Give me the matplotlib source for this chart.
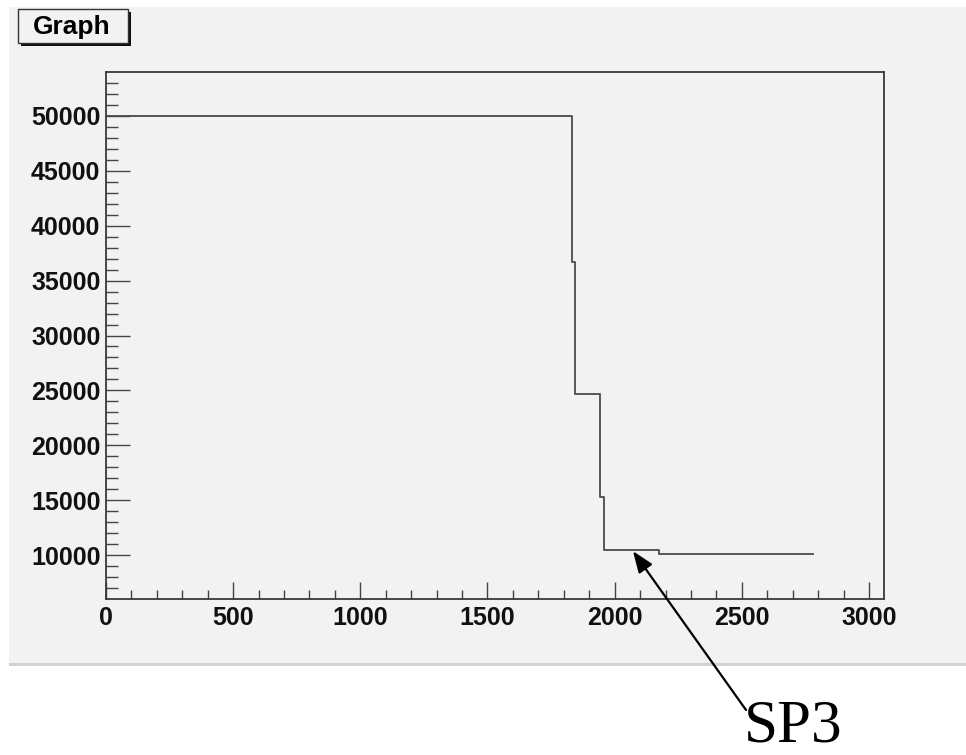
import matplotlib
matplotlib.use("Agg")
import matplotlib.pyplot as plt
from matplotlib.patches import Rectangle

# ---- data ----
step_x = [0, 1833, 1844, 1942, 1958, 2060, 2175, 2780]
step_y = [50000, 36660, 24680, 15245, 10500, 10420, 10110, 10110]
x_ticks = [0, 500, 1000, 1500, 2000, 2500, 3000]
y_ticks = [10000, 15000, 20000, 25000, 30000, 35000, 40000, 45000, 50000]
title_text = "Graph"
note_text = "SP3"
note_point = (2072, 10360)

W, H = 966, 755
fig = plt.figure(figsize=(W / 100, H / 100), dpi=100)
fig.patch.set_facecolor("white")

def fx(px):
    return px / W

def fy(py):
    return 1 - py / H

panel_col = "#f2f2f2"
# gray canvas panel
fig.patches.append(Rectangle((fx(9), fy(665)), fx(966) - fx(9), fy(7) - fy(665),
                             transform=fig.transFigure, facecolor=panel_col,
                             edgecolor="none", zorder=-2))
fig.patches.append(Rectangle((fx(9), fy(666)), fx(966) - fx(9), fy(663) - fy(666),
                             transform=fig.transFigure, facecolor="#d2d2d2",
                             edgecolor="none", zorder=-2))

ax = fig.add_axes([fx(106), fy(599), fx(884) - fx(106), fy(72) - fy(599)])
ax.set_zorder(1)
ax.set_facecolor(panel_col)
ax.plot(step_x, step_y, drawstyle="steps-post", color="#4a4a4a", lw=1.3)
ax.set_xlim(0, 3059)
ax.set_ylim(6000, 54000)

ax.set_xticks(x_ticks)
ax.set_xticks(range(0, 3060, 100), minor=True)
ax.set_yticks(y_ticks)
ax.set_yticks(range(7000, 54000, 1000), minor=True)
ax.set_xticklabels([str(v) for v in x_ticks])
ax.set_yticklabels([str(v) for v in y_ticks])

for lab in ax.get_xticklabels() + ax.get_yticklabels():
    lab.set_fontfamily("Liberation Sans")
    lab.set_fontweight("bold")
    lab.set_fontsize(18)
    lab.set_color("#111111")

ax.tick_params(axis="x", which="major", direction="in", length=12.2, width=1.0,
               color="#444444", pad=5, top=False)
ax.tick_params(axis="x", which="minor", direction="in", length=6.5, width=1.0,
               color="#444444", top=False)
ax.tick_params(axis="y", which="major", direction="in", length=17.3, width=1.0,
               color="#444444", pad=4, right=False)
ax.tick_params(axis="y", which="minor", direction="in", length=8.6, width=1.0,
               color="#444444", right=False)
for s in ax.spines.values():
    s.set_color("#3a3a3a")
    s.set_linewidth(1.3)

# title box with shadow
fig.patches.append(Rectangle((fx(21), fy(46)), fx(131) - fx(21), fy(12) - fy(46),
                             transform=fig.transFigure, facecolor="#111111",
                             edgecolor="none", zorder=2))
fig.patches.append(Rectangle((fx(18), fy(43)), fx(128) - fx(18), fy(9) - fy(43),
                             transform=fig.transFigure, facecolor=panel_col,
                             edgecolor="#333333", lw=1.0, zorder=3))
fig.text(fx(72), fy(27), title_text, ha="center", va="center",
         family="Liberation Sans", weight="bold", size=19, zorder=4)

# annotation arrow and label
ax.annotate("", xy=note_point, xycoords="data",
            xytext=(fx(746), fy(710)), textcoords="figure fraction",
            arrowprops=dict(arrowstyle="-|>,head_length=0.65,head_width=0.25",
                            mutation_scale=20, color="black", lw=1.6,
                            shrinkA=0, shrinkB=0),
            annotation_clip=False)
fig.text(fx(744), fy(742), note_text, ha="left", va="baseline",
         family="Liberation Serif", size=44)

fig.savefig("out.png", dpi=100, facecolor="white")
